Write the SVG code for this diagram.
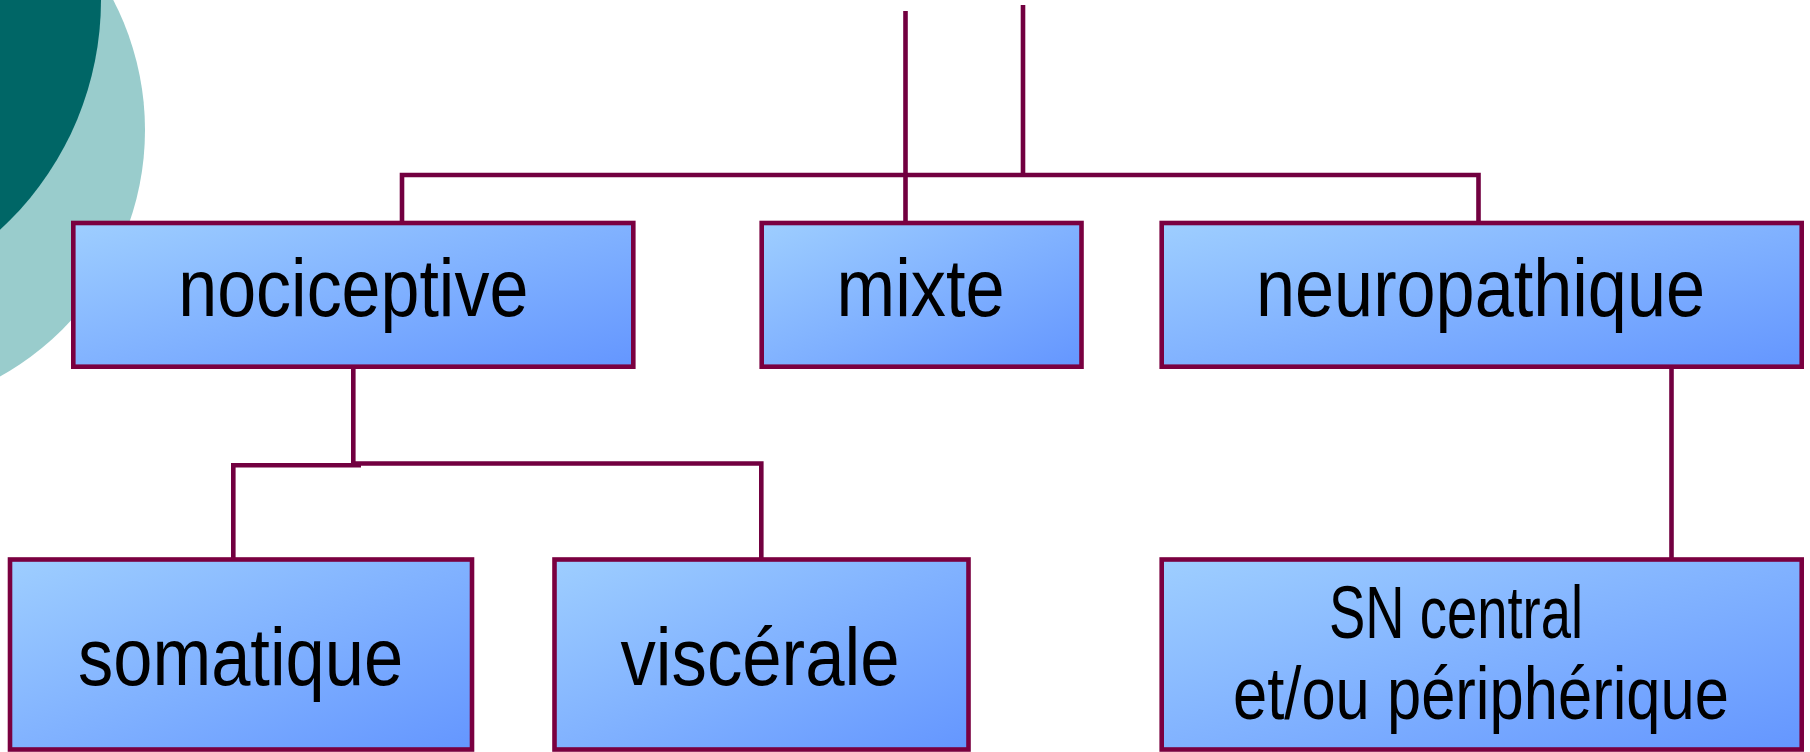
<svg xmlns="http://www.w3.org/2000/svg" width="1810" height="752" viewBox="0 0 1810 752">
  <defs>
    <linearGradient id="boxFill" x1="0" y1="0" x2="1" y2="1">
      <stop offset="0" stop-color="#9ECEFF"/>
      <stop offset="1" stop-color="#6496FF"/>
    </linearGradient>
  </defs>
  <style>
    .box { fill: url(#boxFill); stroke: #7A0040; stroke-width: 4.6; }
    .wire { fill: none; stroke: #720040; stroke-width: 4.6; }
    .label { font-family: "Liberation Sans", Arial, sans-serif; font-size: 82px; fill: #000; text-anchor: middle; }
    .small { font-size: 74px; }
  </style>

  <!-- decorative corner discs -->
  <g id="decor">
    <circle cx="-137" cy="130" r="282" fill="#99CCCC"/>
    <circle cx="-211" cy="0" r="312" fill="#006666"/>
  </g>

  <!-- connectors -->
  <g id="connectors">
    <path class="wire" d="M402,222 V175 H1478.5 V222"/>
    <path class="wire" d="M905.5,11 V222"/>
    <path class="wire" d="M1023,5 V175"/>
    <path class="wire" d="M353.3,367 V463.5 H761.3 V558"/>
    <path class="wire" d="M233.3,558 V465.2 H361"/>
    <path class="wire" d="M1671.5,367 V558"/>
  </g>

  <g id="nociceptive">
    <rect class="box" x="73.3" y="223" width="560" height="143.7"/>
    <text class="label" x="353.3" y="316" textLength="350" lengthAdjust="spacingAndGlyphs">nociceptive</text>
  </g>

  <g id="mixte">
    <rect class="box" x="761.7" y="223" width="319.8" height="143.7"/>
    <text class="label" x="920.6" y="316" textLength="168" lengthAdjust="spacingAndGlyphs">mixte</text>
  </g>

  <g id="neuropathique">
    <rect class="box" x="1161.7" y="223" width="640" height="143.7"/>
    <text class="label" x="1480.5" y="316" textLength="449" lengthAdjust="spacingAndGlyphs">neuropathique</text>
  </g>

  <g id="somatique">
    <rect class="box" x="10" y="559.5" width="462" height="190"/>
    <text class="label" x="240.6" y="684.5" textLength="325" lengthAdjust="spacingAndGlyphs">somatique</text>
  </g>

  <g id="viscerale">
    <rect class="box" x="554.5" y="559.5" width="414" height="190"/>
    <text class="label" x="760" y="684.5" textLength="279" lengthAdjust="spacingAndGlyphs">viscérale</text>
  </g>

  <g id="sn-central">
    <rect class="box" x="1161.7" y="559.5" width="640" height="190"/>
    <text class="label small" x="1456" y="638" textLength="254" lengthAdjust="spacingAndGlyphs">SN central</text>
    <text class="label small" x="1481" y="719" textLength="496" lengthAdjust="spacingAndGlyphs">et/ou périphérique</text>
  </g>
</svg>
